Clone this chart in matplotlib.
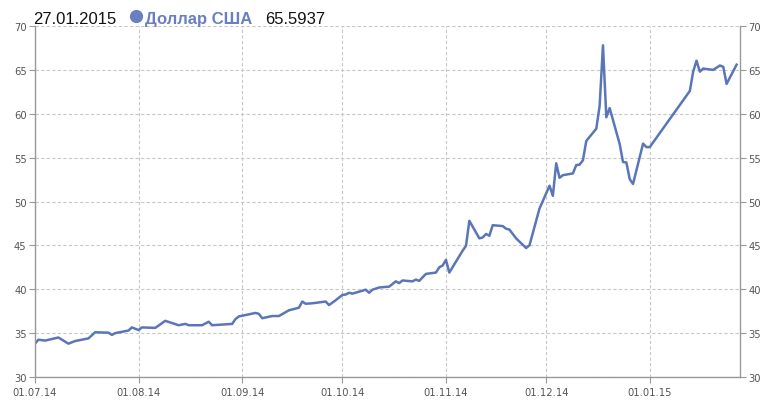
import numpy as np
import pandas as pd
import matplotlib.pyplot as plt
import matplotlib.dates as mdates
from matplotlib.lines import Line2D

# USD rate
dates = ["2014-07-01", "2014-07-02", "2014-07-04", "2014-07-08", "2014-07-11",
         "2014-07-13", "2014-07-17", "2014-07-19", "2014-07-23", "2014-07-24",
         "2014-07-25", "2014-07-29", "2014-07-30", "2014-08-01", "2014-08-02",
         "2014-08-06", "2014-08-09", "2014-08-13", "2014-08-15", "2014-08-16",
         "2014-08-20", "2014-08-22", "2014-08-23", "2014-08-29", "2014-08-30",
         "2014-08-31", "2014-09-05", "2014-09-06", "2014-09-07", "2014-09-10",
         "2014-09-12", "2014-09-15", "2014-09-18", "2014-09-19", "2014-09-20",
         "2014-09-22", "2014-09-26", "2014-09-27", "2014-09-29", "2014-10-01",
         "2014-10-02", "2014-10-03", "2014-10-04", "2014-10-08", "2014-10-09",
         "2014-10-10", "2014-10-12", "2014-10-15", "2014-10-17", "2014-10-18",
         "2014-10-19", "2014-10-22", "2014-10-23", "2014-10-24", "2014-10-26",
         "2014-10-29", "2014-10-30", "2014-10-31", "2014-11-01", "2014-11-02",
         "2014-11-06", "2014-11-07", "2014-11-08", "2014-11-11", "2014-11-12",
         "2014-11-13", "2014-11-14", "2014-11-15", "2014-11-18", "2014-11-19",
         "2014-11-20", "2014-11-22", "2014-11-25", "2014-11-26", "2014-11-29",
         "2014-12-02", "2014-12-03", "2014-12-04", "2014-12-05", "2014-12-06",
         "2014-12-09", "2014-12-10", "2014-12-11", "2014-12-12", "2014-12-13",
         "2014-12-16", "2014-12-17", "2014-12-18", "2014-12-19", "2014-12-20",
         "2014-12-23", "2014-12-24", "2014-12-25", "2014-12-26", "2014-12-27",
         "2014-12-30", "2014-12-31", "2015-01-01", "2015-01-13", "2015-01-14",
         "2015-01-15", "2015-01-16", "2015-01-17", "2015-01-20", "2015-01-22",
         "2015-01-23", "2015-01-24", "2015-01-27"]
rates = [33.8, 34.25, 34.15, 34.5, 33.8,
         34.1, 34.4, 35.1, 35.05, 34.8,
         35.0, 35.3, 35.65, 35.35, 35.65,
         35.6, 36.4, 35.9, 36.05, 35.9,
         35.9, 36.3, 35.9, 36.05, 36.6,
         36.9, 37.3, 37.2, 36.7, 36.95,
         36.95, 37.6, 37.9, 38.6, 38.35,
         38.4, 38.6, 38.2, 38.75, 39.35,
         39.4, 39.6, 39.5, 39.95, 39.6,
         39.95, 40.2, 40.3, 40.9, 40.7,
         41.0, 40.9, 41.1, 40.95, 41.75,
         41.9, 42.5, 42.7, 43.35, 41.9,
         44.4, 44.95, 47.8, 45.8, 45.9,
         46.3, 46.1, 47.3, 47.2, 46.9,
         46.8, 45.8, 44.7, 45.0, 49.2,
         51.8, 50.65, 54.35, 52.7, 53.0,
         53.2, 54.15, 54.2, 54.7, 56.9,
         58.3, 60.9, 67.8, 59.6, 60.65,
         56.55, 54.5, 54.45, 52.55, 52.0,
         56.6, 56.2, 56.2, 62.6, 64.8,
         66.05, 64.8, 65.15, 65.0, 65.5,
         65.35, 63.4, 65.5937]

month_ticks = ["2014-07-01", "2014-08-01", "2014-09-01", "2014-10-01",
               "2014-11-01", "2014-12-01", "2015-01-01"]
y_ticks = [30, 35, 40, 45, 50, 55, 60, 65, 70]

x = pd.to_datetime(dates)
blue = "#5a76b8"
grey = "#999999"
txt = "#555555"

fig = plt.figure(figsize=(7.66, 4.02), dpi=100)
ax = fig.add_axes([0.0457, 0.0597, 0.9203, 0.8731])
ax.plot(x, rates, color=blue, lw=1.8, solid_joinstyle="round")

ax.set_xlim(pd.Timestamp("2014-07-01"), pd.Timestamp("2015-01-28"))
ax.set_ylim(30, 70)
ax.set_yticks(y_ticks)
ax.set_xticks(pd.to_datetime(month_ticks))
ax.xaxis.set_major_formatter(mdates.DateFormatter("%d.%m.%y"))

ax.grid(True, color="#c8c8c8", ls=(0, (3, 2)), lw=0.8)
ax.tick_params(axis="both", labelsize=7.2, colors=grey, labelcolor=txt,
               length=4, width=0.8)
ax.tick_params(axis="y", right=True, labelright=True, pad=2)
ax.tick_params(axis="x", pad=3)
for s in ["left", "right", "bottom"]:
    ax.spines[s].set_color(grey)
    ax.spines[s].set_linewidth(1.0)
ax.spines["top"].set_visible(False)

# header
ty = 1 - 24 / 402
hfont = "Liberation Sans"
fig.text(33 / 766, ty, "27.01.2015", fontsize=12, color="#111111",
         family=hfont)
fig.add_artist(Line2D([135.5 / 766], [1 - 17 / 402], marker="o",
                      markersize=8.5, color="#6a7fbf", ls="none",
                      transform=fig.transFigure))
fig.text(145 / 766, ty, "Доллар США", fontsize=12, fontweight="bold",
         color="#6a7fbf", family=hfont)
fig.text(265 / 766, ty, "65.5937", fontsize=12, color="#111111",
         family=hfont)

fig.savefig("out.png", dpi=100)
